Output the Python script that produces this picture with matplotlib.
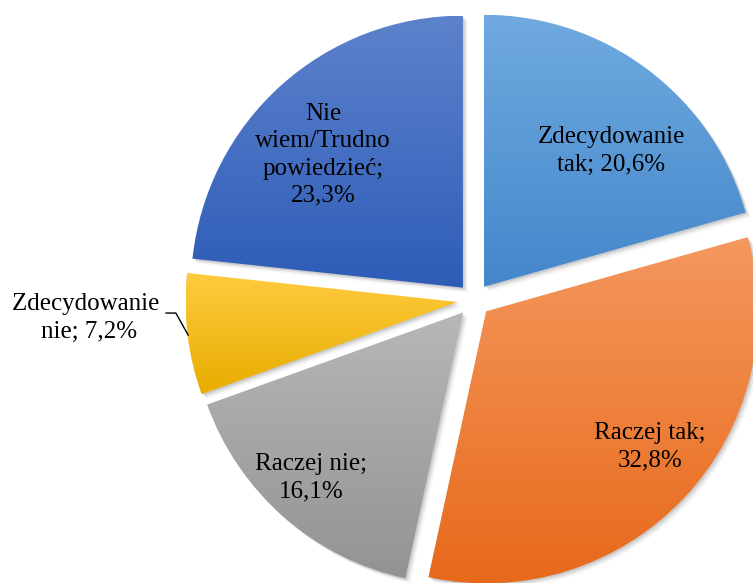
import numpy as np
import matplotlib.pyplot as plt
from matplotlib.patches import Wedge
from matplotlib.colors import to_rgb

# Dane
kategorie = ['Zdecydowanie tak', 'Raczej tak', 'Raczej nie', 'Zdecydowanie nie', 'Nie wiem/Trudno powiedzieć']
procenty = [20.6, 32.8, 16.1, 7.2, 23.3]
etykiety = ['Zdecydowanie\ntak; 20,6%', 'Raczej tak;\n32,8%', 'Raczej nie;\n16,1%',
            'Zdecydowanie \nnie; 7,2%', 'Nie\nwiem/Trudno\npowiedzieć;\n23,3%']

# Kolory (gora / dol gradientu)
kolory_gora = ['#70AAE0', '#F5985E', '#B7B7B7', '#FFCB40', '#5D82CC']
kolory_dol = ['#4387CB', '#E7691B', '#939393', '#E8AD00', '#2D5CB7']

# Pozycje etykiet (wspolrzedne danych)
pozycje_etykiet = [(0.504, 0.548), (0.647, -0.540), (-0.599, -0.654), (-1.415, -0.066), (-0.555, 0.533)]

fig = plt.figure(figsize=(7.53, 5.83), dpi=100)
ax = fig.add_axes([0, 0, 1, 1])

wedges, _ = ax.pie(procenty, startangle=90, counterclock=False, radius=1.0,
                   explode=[0.061] * len(procenty),
                   wedgeprops=dict(linewidth=0))

for i, w in enumerate(wedges):
    # cien
    for k, (dx, a) in enumerate([(0.006, 0.10), (0.012, 0.07), (0.018, 0.04)]):
        cien = Wedge((w.center[0] + dx, w.center[1] - dx), w.r, w.theta1, w.theta2,
                     facecolor='black', edgecolor='none', alpha=a, zorder=0.5)
        ax.add_patch(cien)
    w.set_zorder(1)
    w.set_facecolor('none')

    # gradient pionowy
    bb = w.get_path().get_extents(w.get_patch_transform())
    c1 = np.array(to_rgb(kolory_gora[i]))
    c2 = np.array(to_rgb(kolory_dol[i]))
    t = np.linspace(0, 1, 256)[:, None, None]
    grad = c1 * (1 - t) + c2 * t
    im = ax.imshow(grad, extent=(bb.x0, bb.x1, bb.y0, bb.y1), origin='upper',
                   aspect='auto', zorder=1, interpolation='bilinear')
    im.set_clip_path(w)

for (x, y), txt in zip(pozycje_etykiet, etykiety):
    ax.text(x, y, txt, ha='center', va='center', fontsize=18, family='Liberation Serif',
            color='black', linespacing=1.3, zorder=3)

# linia odniesienia dla "Zdecydowanie nie"
ax.plot([-1.132, -1.096, -1.051], [-0.048, -0.048, -0.129], color='black', linewidth=1.0, zorder=3)

ax.set_xlim(-474 / 272, 279 / 272)
ax.set_ylim(-283 / 272, 300 / 272)
ax.set_aspect('equal')
ax.axis('off')

fig.savefig('out.png', dpi=100)
